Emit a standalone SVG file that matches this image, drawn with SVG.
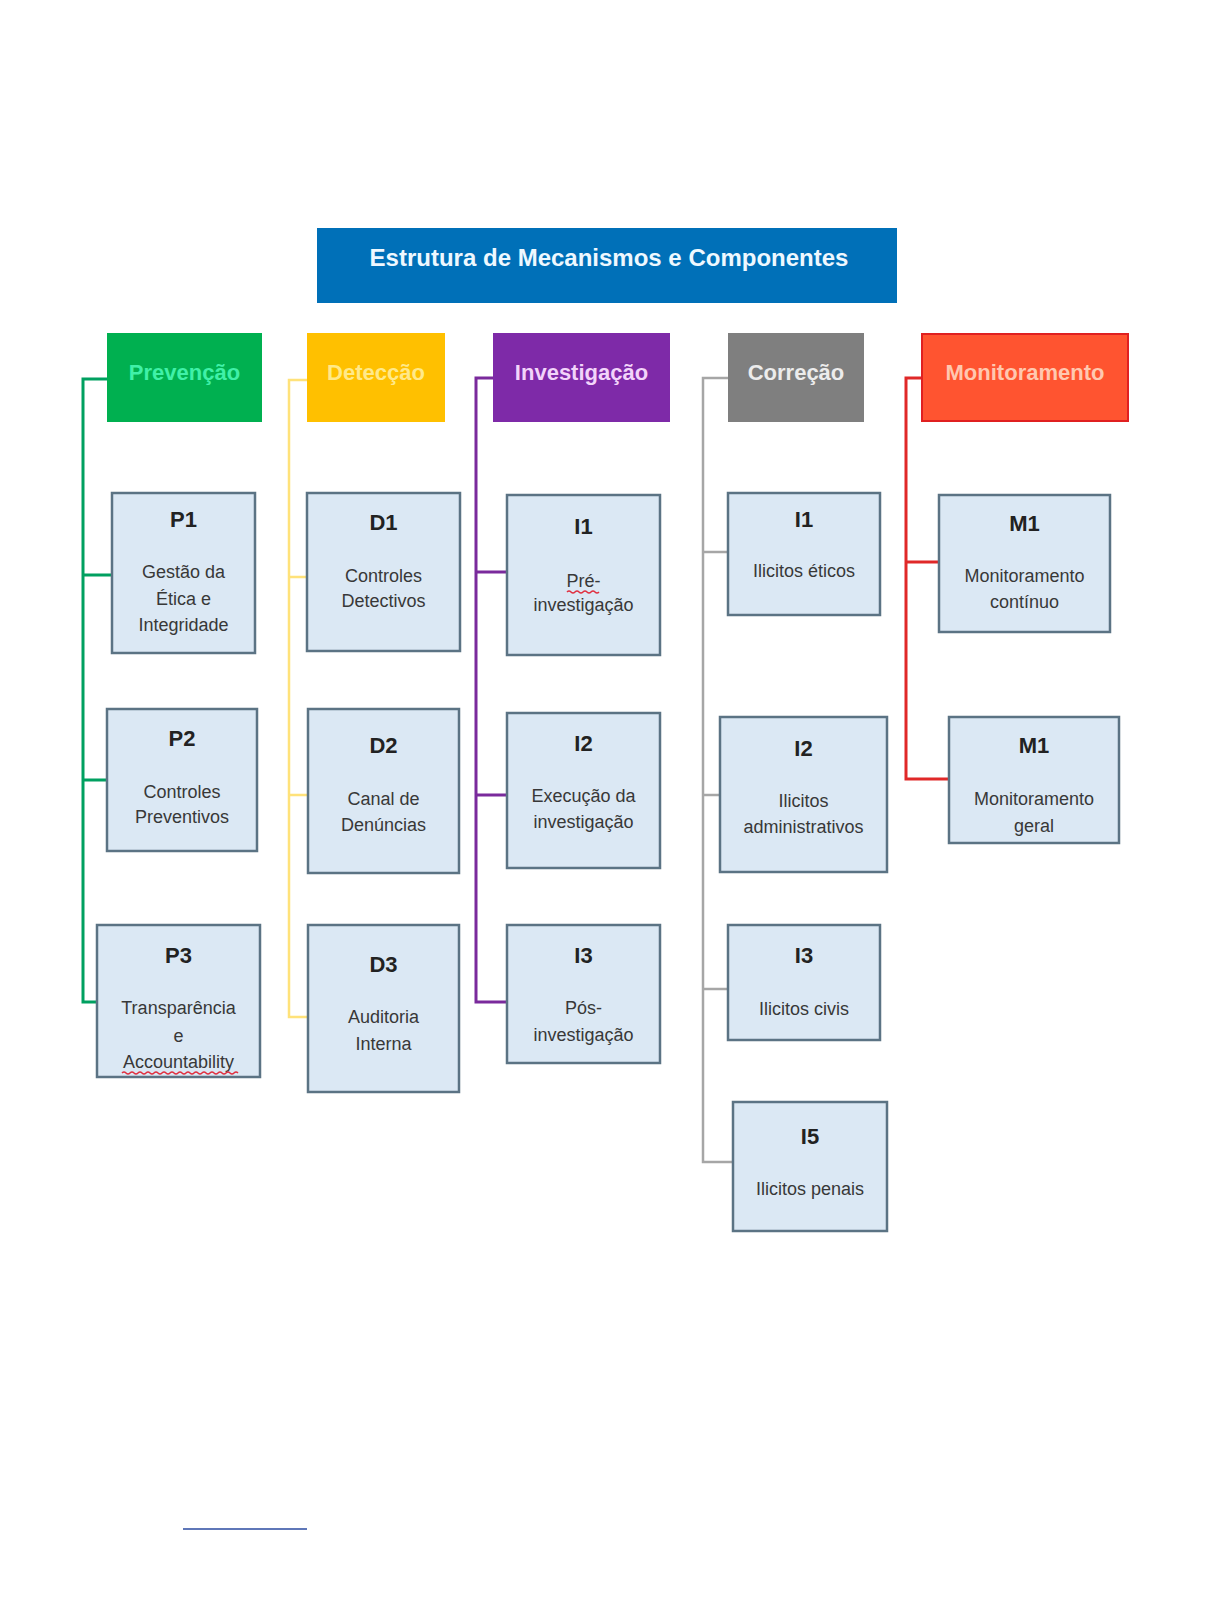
<svg xmlns="http://www.w3.org/2000/svg" width="1212" height="1616" viewBox="0 0 1212 1616">
<style>
  .hdr-t { font-family: "Liberation Sans", Arial, sans-serif; font-size: 22px; font-weight: bold; text-anchor: middle; }
  .box { fill: #dbe8f4; stroke: #5b7384; stroke-width: 2.5; }
  .lbl { font-family: "Liberation Sans", Arial, sans-serif; font-size: 22px; font-weight: bold; fill: #222; text-anchor: middle; }
  .txt { font-family: "Liberation Sans", Arial, sans-serif; font-size: 18px; fill: #383838; text-anchor: middle; }
  .con { fill: none; stroke-linejoin: miter; }
  .spell { fill: none; stroke: #e03040; stroke-width: 1.5; }
</style>
<rect width="1212" height="1616" fill="#ffffff"/>

<g id="connectors">
  <path class="con" stroke="#00a060" stroke-width="3" d="M107 379 H83 V1002 H97 M83 575 H112 M83 780 H107"/>
  <path class="con" stroke="#ffe27a" stroke-width="2.5" d="M307 380 H289 V1017 H308 M289 577 H307 M289 795 H308"/>
  <path class="con" stroke="#7a2a9c" stroke-width="3" d="M493 378 H476 V1002 H507 M476 572 H507 M476 795 H507"/>
  <path class="con" stroke="#a6a6a6" stroke-width="2.5" d="M728 378 H703 V1162 H733 M703 552 H728 M703 795 H720 M703 989 H728"/>
  <path class="con" stroke="#e02828" stroke-width="3" d="M922 378 H906 V779 H949 M906 562 H939"/>
</g>

<g id="title">
  <rect x="317" y="228" width="580" height="75" fill="#0070b8"/>
  <text x="609" y="266" font-family="'Liberation Sans', Arial, sans-serif" font-size="24" font-weight="bold" fill="#eef8ff" text-anchor="middle">Estrutura de Mecanismos e Componentes</text>
</g>

<g id="h-prevencao">
  <rect x="107" y="333" width="155" height="89" fill="#00b050"/>
  <text class="hdr-t" x="184.5" y="380" fill="#40f0a8">Prevenção</text>
</g>
<g id="h-deteccao">
  <rect x="307" y="333" width="138" height="89" fill="#ffc000"/>
  <text class="hdr-t" x="376" y="380" fill="#ffe98a">Detecção</text>
</g>
<g id="h-investigacao">
  <rect x="493" y="333" width="177" height="89" fill="#7e2aa8"/>
  <text class="hdr-t" x="581.5" y="380" fill="#f2d4fa">Investigação</text>
</g>
<g id="h-correcao">
  <rect x="728" y="333" width="136" height="89" fill="#7f7f7f"/>
  <text class="hdr-t" x="796" y="380" fill="#ececec">Correção</text>
</g>
<g id="h-monitoramento">
  <rect x="922" y="334" width="206" height="87" fill="#ff5430" stroke="#e02020" stroke-width="2"/>
  <text class="hdr-t" x="1025" y="380" fill="#ffc8b0">Monitoramento</text>
</g>

<g id="P1">
  <rect class="box" x="112" y="493" width="143" height="160"/>
  <text class="lbl" x="183.5" y="527">P1</text>
  <text class="txt" x="183.5" y="578">Gestão da</text>
  <text class="txt" x="183.5" y="605">Ética e</text>
  <text class="txt" x="183.5" y="631">Integridade</text>
</g>
<g id="P2">
  <rect class="box" x="107" y="709" width="150" height="142"/>
  <text class="lbl" x="182" y="746">P2</text>
  <text class="txt" x="182" y="798">Controles</text>
  <text class="txt" x="182" y="823">Preventivos</text>
</g>
<g id="P3">
  <rect class="box" x="97" y="925" width="163" height="152"/>
  <text class="lbl" x="178.5" y="963">P3</text>
  <text class="txt" x="178.5" y="1014">Transparência</text>
  <text class="txt" x="178.5" y="1042">e</text>
  <text class="txt" x="178.5" y="1068">Accountability</text>
  <path class="spell" d="M122 1073 q2 -2 4 0 t4 0 t4 0 t4 0 t4 0 t4 0 t4 0 t4 0 t4 0 t4 0 t4 0 t4 0 t4 0 t4 0 t4 0 t4 0 t4 0 t4 0 t4 0 t4 0 t4 0 t4 0 t4 0 t4 0 t4 0 t4 0 t4 0 t4 0 t4 0"/>
</g>

<g id="D1">
  <rect class="box" x="307" y="493" width="153" height="158"/>
  <text class="lbl" x="383.5" y="530">D1</text>
  <text class="txt" x="383.5" y="582">Controles</text>
  <text class="txt" x="383.5" y="607">Detectivos</text>
</g>
<g id="D2">
  <rect class="box" x="308" y="709" width="151" height="164"/>
  <text class="lbl" x="383.5" y="753">D2</text>
  <text class="txt" x="383.5" y="805">Canal de</text>
  <text class="txt" x="383.5" y="831">Denúncias</text>
</g>
<g id="D3">
  <rect class="box" x="308" y="925" width="151" height="167"/>
  <text class="lbl" x="383.5" y="972">D3</text>
  <text class="txt" x="383.5" y="1023">Auditoria</text>
  <text class="txt" x="383.5" y="1050">Interna</text>
</g>

<g id="I1">
  <rect class="box" x="507" y="495" width="153" height="160"/>
  <text class="lbl" x="583.5" y="534">I1</text>
  <text class="txt" x="583.5" y="587">Pré-</text>
  <text class="txt" x="583.5" y="611">investigação</text>
  <path class="spell" d="M567 592 q2 -2 4 0 t4 0 t4 0 t4 0 t4 0 t4 0 t4 0 t4 0"/>
</g>
<g id="I2">
  <rect class="box" x="507" y="713" width="153" height="155"/>
  <text class="lbl" x="583.5" y="751">I2</text>
  <text class="txt" x="583.5" y="802">Execução da</text>
  <text class="txt" x="583.5" y="828">investigação</text>
</g>
<g id="I3">
  <rect class="box" x="507" y="925" width="153" height="138"/>
  <text class="lbl" x="583.5" y="963">I3</text>
  <text class="txt" x="583.5" y="1014">Pós-</text>
  <text class="txt" x="583.5" y="1041">investigação</text>
</g>

<g id="C-I1">
  <rect class="box" x="728" y="493" width="152" height="122"/>
  <text class="lbl" x="804" y="527">I1</text>
  <text class="txt" x="804" y="577">Ilicitos éticos</text>
</g>
<g id="C-I2">
  <rect class="box" x="720" y="717" width="167" height="155"/>
  <text class="lbl" x="803.5" y="756">I2</text>
  <text class="txt" x="803.5" y="807">Ilicitos</text>
  <text class="txt" x="803.5" y="833">administrativos</text>
</g>
<g id="C-I3">
  <rect class="box" x="728" y="925" width="152" height="115"/>
  <text class="lbl" x="804" y="963">I3</text>
  <text class="txt" x="804" y="1015">Ilicitos civis</text>
</g>
<g id="C-I5">
  <rect class="box" x="733" y="1102" width="154" height="129"/>
  <text class="lbl" x="810" y="1144">I5</text>
  <text class="txt" x="810" y="1195">Ilicitos penais</text>
</g>

<g id="M1a">
  <rect class="box" x="939" y="495" width="171" height="137"/>
  <text class="lbl" x="1024.5" y="531">M1</text>
  <text class="txt" x="1024.5" y="582">Monitoramento</text>
  <text class="txt" x="1024.5" y="608">contínuo</text>
</g>
<g id="M1b">
  <rect class="box" x="949" y="717" width="170" height="126"/>
  <text class="lbl" x="1034" y="753">M1</text>
  <text class="txt" x="1034" y="805">Monitoramento</text>
  <text class="txt" x="1034" y="832">geral</text>
</g>

<g id="footnote-rule">
  <line x1="183" y1="1529" x2="307" y2="1529" stroke="#2a4aa0" stroke-width="1.5"/>
</g>
</svg>
